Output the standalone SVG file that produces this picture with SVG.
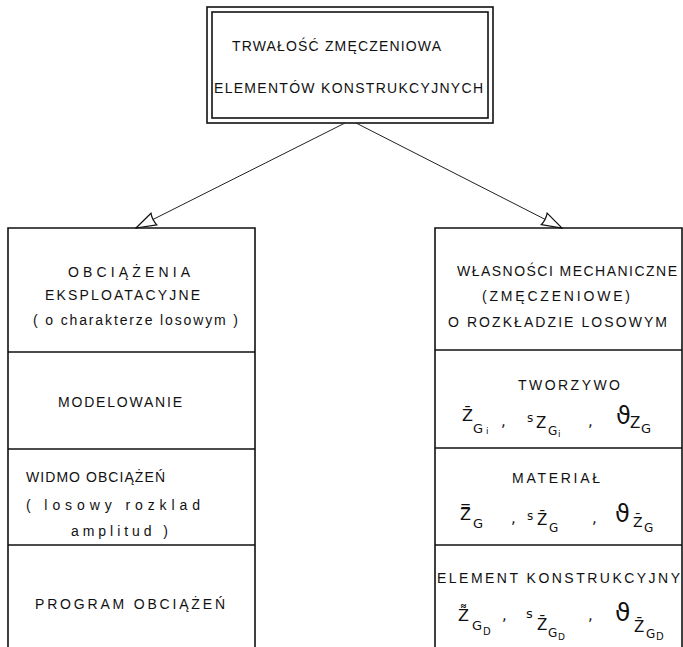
<svg xmlns="http://www.w3.org/2000/svg" width="683" height="647" viewBox="0 0 683 647">
<style>
.box{fill:none;stroke:#111;stroke-width:1.6}
.div{stroke:#111;stroke-width:1.6}
.t{font-family:"Liberation Sans","DejaVu Sans",sans-serif;font-size:14px;fill:#111}
.f{font-family:"DejaVu Sans",sans-serif;fill:#111;font-size:15px}
.con{stroke:#222;stroke-width:1}
</style>
<defs>
<marker id="ah" viewBox="0 0 22 16" refX="21" refY="8" markerWidth="22" markerHeight="16" markerUnits="userSpaceOnUse" orient="auto">
<path d="M1,1.5 L21,8 L1,14.5 Q3,8 1,1.5 Z" fill="#fff" stroke="#111" stroke-width="1.2"/>
</marker>
</defs>
<rect width="683" height="647" fill="#fff"/>
<g id="top">
<rect class="box" x="207" y="7" width="286" height="116"/>
<rect class="box" x="212" y="12" width="276" height="106"/>
<text class="t" x="232" y="51" textLength="209" lengthAdjust="spacing">TRWAŁOŚĆ  ZMĘCZENIOWA</text>
<text class="t" x="214" y="93" textLength="269" lengthAdjust="spacing">ELEMENTÓW  KONSTRUKCYJNYCH</text>
</g>
<g id="connectors">
<line class="con" x1="345" y1="123" x2="136" y2="228" marker-end="url(#ah)"/>
<line class="con" x1="356" y1="123" x2="562" y2="228" marker-end="url(#ah)"/>
</g>
<g id="left">
<path class="box" d="M8,647 V228 H255 V647"/>
<line class="div" x1="8" y1="352" x2="255" y2="352"/>
<line class="div" x1="8" y1="449" x2="255" y2="449"/>
<line class="div" x1="8" y1="545" x2="255" y2="545"/>
<text class="t" x="68" y="277" textLength="122" lengthAdjust="spacing">OBCIĄŻENIA</text>
<text class="t" x="45" y="300" textLength="155" lengthAdjust="spacing">EKSPLOATACYJNE</text>
<text class="t" x="33" y="325" textLength="205" lengthAdjust="spacing">( o charakterze  losowym )</text>
<text class="t" x="58" y="407" textLength="124" lengthAdjust="spacing">MODELOWANIE</text>
<text class="t" x="26" y="482" textLength="139" lengthAdjust="spacing">WIDMO  OBCIĄŻEŃ</text>
<text class="t" x="26" y="510" textLength="174" lengthAdjust="spacing">( losowy    rozklad</text>
<text class="t" x="71" y="536" textLength="97" lengthAdjust="spacing">amplitud  )</text>
<text class="t" x="35" y="609" textLength="190" lengthAdjust="spacing">PROGRAM  OBCIĄŻEŃ</text>
</g>
<g id="right">
<path class="box" d="M435,647 V228 H682 V647"/>
<line class="div" x1="435" y1="350" x2="682" y2="350"/>
<line class="div" x1="435" y1="448" x2="682" y2="448"/>
<line class="div" x1="435" y1="545" x2="682" y2="545"/>
<text class="t" x="457" y="276" textLength="220" lengthAdjust="spacing">WŁASNOŚCI  MECHANICZNE</text>
<text class="t" x="482" y="301" textLength="148" lengthAdjust="spacing">(ZMĘCZENIOWE)</text>
<text class="t" x="448" y="327" textLength="219" lengthAdjust="spacing">O ROZKŁADZIE  LOSOWYM</text>
<text class="t" x="518" y="390" textLength="102" lengthAdjust="spacing">TWORZYWO</text>
<text class="f"><tspan x="462" y="421" font-size="16">Z̄</tspan><tspan x="473" y="433" font-size="13">G</tspan><tspan x="486" y="434" font-size="9">i</tspan><tspan x="501" y="426">,</tspan><tspan x="527" y="422" font-size="12">s</tspan><tspan x="536" y="428">Z</tspan><tspan x="548" y="435" font-size="12">G</tspan><tspan x="558" y="437" font-size="9">i</tspan><tspan x="588" y="426">,</tspan><tspan x="616" y="424" font-size="24">ϑ</tspan><tspan x="630" y="428">Z</tspan><tspan x="641" y="433" font-size="13">G</tspan></text>
<text class="t" x="512" y="483" textLength="88" lengthAdjust="spacing">MATERIAŁ</text>
<text class="f"><tspan x="460" y="520" font-size="16">Z̿</tspan><tspan x="473" y="528" font-size="13">G</tspan><tspan x="511" y="523">,</tspan><tspan x="527" y="520" font-size="12">s</tspan><tspan x="537" y="525">Z̄</tspan><tspan x="549" y="532" font-size="12">G</tspan><tspan x="592" y="523">,</tspan><tspan x="615" y="522" font-size="24">ϑ</tspan><tspan x="633" y="527" font-size="14">Z̄</tspan><tspan x="644" y="532" font-size="12">G</tspan></text>
<text class="t" x="437" y="583" textLength="243" lengthAdjust="spacing">ELEMENT  KONSTRUKCYJNY</text>
<text class="f"><tspan x="458" y="621" font-size="16">Z͌</tspan><tspan x="472" y="630" font-size="13">G</tspan><tspan x="483" y="635" font-size="10">D</tspan><tspan x="502" y="620">,</tspan><tspan x="526" y="618" font-size="13">s</tspan><tspan x="537" y="630">Z̄</tspan><tspan x="548" y="637" font-size="12">G</tspan><tspan x="558" y="640" font-size="9">D</tspan><tspan x="588" y="620">,</tspan><tspan x="615" y="621" font-size="25">ϑ</tspan><tspan x="634" y="632">Z̄</tspan><tspan x="646" y="638" font-size="12">G</tspan><tspan x="656" y="640" font-size="10">D</tspan></text>
</g>
</svg>
